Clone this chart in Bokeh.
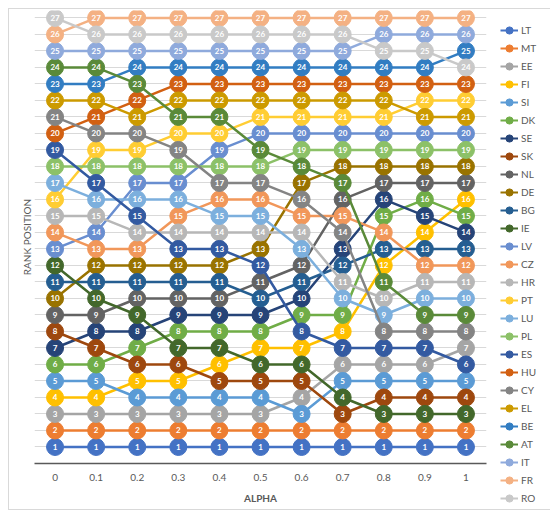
import math
from bokeh.plotting import figure
from bokeh.models import Range1d, Legend, LegendItem, ColumnDataSource, FixedTicker
from bokeh.core.properties import value
from bokeh.embed import file_html
from bokeh.resources import INLINE

alpha_labels = ["0", "0.1", "0.2", "0.3", "0.4", "0.5", "0.6", "0.7", "0.8", "0.9", "1"]

countries = ["LT", "MT", "EE", "FI", "SI", "DK", "SE", "SK", "NL", "DE", "BG", "IE", "LV", "CZ",
             "HR", "PT", "LU", "PL", "ES", "HU", "CY", "EL", "BE", "AT", "IT", "FR", "RO"]

LT = [1, 1, 1, 1, 1, 1, 1, 1, 1, 1, 1]
MT = [2, 2, 2, 2, 2, 2, 2, 2, 2, 2, 2]
EE = [3, 3, 3, 3, 3, 3, 4, 6, 6, 6, 7]
FI = [4, 4, 5, 5, 6, 7, 7, 8, 12, 14, 16]
SI = [5, 5, 4, 4, 4, 4, 3, 5, 5, 5, 5]
DK = [6, 6, 7, 8, 8, 8, 9, 9, 15, 16, 15]
SE = [7, 8, 8, 9, 9, 9, 10, 13, 16, 15, 14]
SK = [8, 7, 6, 6, 5, 5, 5, 3, 4, 4, 4]
NL = [9, 9, 10, 10, 10, 11, 12, 16, 17, 17, 17]
DE = [10, 12, 12, 12, 12, 13, 17, 18, 18, 18, 18]
BG = [11, 11, 11, 11, 11, 10, 11, 12, 13, 13, 13]
IE = [12, 10, 9, 7, 7, 6, 6, 4, 3, 3, 3]
LV = [13, 14, 17, 17, 19, 20, 20, 20, 20, 20, 20]
CZ = [14, 13, 13, 15, 16, 16, 15, 15, 14, 12, 12]
HR = [15, 15, 14, 14, 14, 14, 14, 11, 10, 11, 11]
PT = [16, 19, 19, 20, 20, 21, 21, 21, 21, 22, 22]
LU = [17, 16, 16, 16, 15, 15, 13, 10, 9, 10, 10]
PL = [18, 18, 18, 18, 18, 18, 19, 19, 19, 19, 19]
ES = [19, 17, 15, 13, 13, 12, 8, 7, 7, 7, 6]
HU = [20, 21, 22, 23, 23, 23, 23, 23, 23, 23, 23]
CY = [21, 20, 20, 19, 17, 17, 16, 14, 8, 8, 8]
EL = [22, 22, 21, 22, 22, 22, 22, 22, 22, 21, 21]
BE = [23, 23, 24, 24, 24, 24, 24, 24, 24, 24, 25]
AT = [24, 24, 23, 21, 21, 19, 18, 17, 11, 9, 9]
IT = [25, 25, 25, 25, 25, 25, 25, 25, 26, 26, 26]
FR = [26, 27, 27, 27, 27, 27, 27, 27, 27, 27, 27]
RO = [27, 26, 26, 26, 26, 26, 26, 26, 25, 25, 24]

ranks = [LT, MT, EE, FI, SI, DK, SE, SK, NL, DE, BG, IE, LV, CZ,
         HR, PT, LU, PL, ES, HU, CY, EL, BE, AT, IT, FR, RO]

colors = ["#4472C4", "#ED7D31", "#A5A5A5", "#FFC000", "#5B9BD5", "#70AD47", "#264478",
          "#9E480E", "#636363", "#997300", "#255E91", "#43682B", "#698ED0", "#F1975A",
          "#B7B7B7", "#FFCD33", "#7CAFDD", "#8CC168", "#335AA1", "#D26012", "#848484",
          "#CC9A00", "#327DC2", "#5A8A39", "#8FAADC", "#F4B183", "#C9C9C9"]

FONT = "Lato"
GREY = "#595959"

p = figure(frame_width=452, frame_height=453, output_backend="svg", toolbar_location=None,
           x_range=Range1d(-0.5, 10.5), y_range=Range1d(0, 27.45),
           min_border_left=25, min_border_right=58, min_border_top=1, min_border_bottom=46)
p.styles = {"border": "1px solid #D9D9D9", "margin-left": "8px", "margin-top": "8px"}
p.outline_line_color = None
p.background_fill_color = "white"
p.border_fill_color = "white"

p.xgrid.grid_line_color = None
p.ygrid.grid_line_color = "#D9D9D9"
p.ygrid.grid_line_width = 1
p.ygrid.ticker = FixedTicker(ticks=list(range(1, 28)))
p.yaxis.ticker = FixedTicker(ticks=[])

p.xaxis.ticker = FixedTicker(ticks=list(range(11)))
p.xaxis.major_label_overrides = {i: s for i, s in enumerate(alpha_labels)}
p.xaxis.major_tick_line_color = None
p.xaxis.minor_tick_line_color = None
p.xaxis.axis_line_color = GREY
p.xaxis.axis_line_width = 1.5
p.xaxis.major_label_text_color = GREY
p.xaxis.major_label_text_font = FONT
p.xaxis.major_label_text_font_size = "10px"
p.xaxis.major_label_standoff = 4
p.xaxis.axis_label = "ALPHA"
p.xaxis.axis_label_text_font = FONT
p.xaxis.axis_label_text_font_size = "10px"
p.xaxis.axis_label_text_font_style = "bold"
p.xaxis.axis_label_text_color = GREY
p.xaxis.axis_label_standoff = 8

p.yaxis.axis_line_color = None
p.yaxis.major_tick_line_color = None
p.yaxis.minor_tick_line_color = None
p.yaxis.major_tick_out = 0
p.yaxis.major_tick_in = 0
p.yaxis.major_label_standoff = 0
p.yaxis.axis_label = "RANK POSITION"
p.yaxis.axis_label_text_font = FONT
p.yaxis.axis_label_text_font_size = "10px"
p.yaxis.axis_label_text_font_style = "normal"
p.yaxis.axis_label_text_color = GREY
p.yaxis.axis_label_standoff = 2

xs = list(range(11))
items = []
for name, r, c in zip(countries, ranks, colors):
    src = ColumnDataSource(dict(x=xs, y=r, t=[str(v) for v in r]))
    p.line("x", "y", source=src, line_color=c, line_width=2.5)
    p.scatter("x", "y", source=src, size=17, fill_color=c, line_color=c, line_width=1)
    p.text("x", "y", text="t", source=src, text_color="white", text_font=value(FONT),
           text_font_size="8px", text_font_style="bold", text_align="center",
           text_baseline="middle")
    nan = [math.nan]
    lr = p.line(nan, nan, line_color=c, line_width=2)
    sr = p.scatter(nan, nan, size=5, fill_color=c, line_color=c)
    items.append(LegendItem(label=name, renderers=[lr, sr]))

legend = Legend(items=items, location=(14, -44), padding=0, margin=0, spacing=0,
                label_height=18, glyph_height=18, glyph_width=18, label_standoff=3,
                label_text_font=FONT, label_text_font_size="10px", label_text_color=GREY,
                border_line_color=None, background_fill_alpha=0)
p.add_layout(legend, "right")

open("out.html", "w").write(file_html(p, INLINE))
